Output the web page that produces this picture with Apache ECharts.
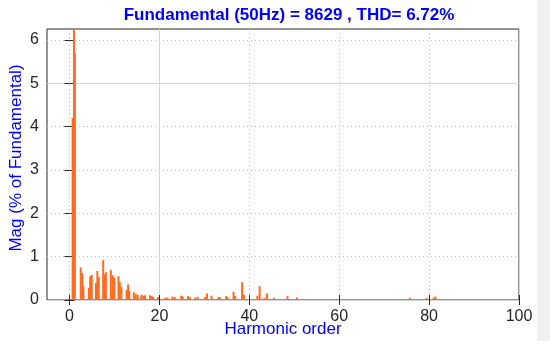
<!DOCTYPE html>
<html>
<head>
<meta charset="utf-8">
<script src="https://cdn.jsdelivr.net/npm/echarts@6/dist/echarts.min.js"></script>
<style>
html,body{margin:0;padding:0;background:#fff;}
#chart{width:550px;height:350px;}
</style>
</head>
<body>
<div id="chart"></div>
<script>
// ---- data ----
const titleText = 'Fundamental (50Hz) = 8629 , THD= 6.72%';
const xName = 'Harmonic order';
const yName = 'Mag (% of Fundamental)';
const xTicks = [0, 20, 40, 60, 80, 100];
const yTicks = [0, 1, 2, 3, 4, 5, 6];
const harmonicOrder = [0.7, 1.0, 1.2, 2.5, 2.85, 3.1, 4.3, 4.6, 4.95, 5.9, 6.2, 6.5, 7.5, 7.9, 8.1,
  9.2, 9.6, 9.95, 10.9, 11.2, 11.55, 12.7, 13.05, 13.3, 14.3, 14.75, 15.2, 16.0, 16.4, 16.8,
  17.9, 18.3, 18.6, 19.7, 21.3, 21.8, 22.9, 23.4, 24.85, 25.2, 26.35, 26.8, 28.0, 28.5, 30.1,
  30.6, 31.6, 33.1, 33.45, 34.85, 35.15, 36.5, 36.85, 38.4, 38.8, 41.8, 42.3, 43.4, 43.95,
  45.5, 48.5, 50.6, 75.7, 79.4, 81.0, 81.4];
const magPercent = [4.2, 100, 5.7, 0.75, 0.62, 0.31, 0.28, 0.55, 0.58, 0.39, 0.67, 0.53, 0.92, 0.59, 0.64,
  0.69, 0.57, 0.52, 0.55, 0.41, 0.3, 0.23, 0.36, 0.21, 0.18, 0.14, 0.12, 0.12, 0.1, 0.11,
  0.11, 0.09, 0.07, 0.07, 0.05, 0.06, 0.08, 0.07, 0.1, 0.08, 0.09, 0.06, 0.06, 0.07, 0.07,
  0.15, 0.1, 0.06, 0.07, 0.09, 0.06, 0.19, 0.09, 0.41, 0.12, 0.1, 0.32, 0.05, 0.15,
  0.05, 0.09, 0.06, 0.05, 0.05, 0.05, 0.08];
const xMin = -5, xMax = 100, yMin = 0, yMax = 6.25;

// ---- styles ----
const FONT = 'Liberation Sans, Arial, sans-serif';
const BLUE = '#0000FF';
const DARK = '#262626';
const MAJOR = '#d4d4d4';
const MINOR = '#bdbdbd';
const T = 'rgba(0,0,0,0)';
const BAR = '#FF6A1F';
const BAR_W = 2;

const barData = harmonicOrder.map((h, i) => [h, magPercent[i]]);

function isTick(v, list) { return list.some(t => Math.abs(t - v) < 1e-6); }

function renderBar(params, api) {
  const x = api.value(0), v = api.value(1);
  const top = api.coord([x, v]);
  const base = api.coord([x, 0]);
  const cs = params.coordSys;
  const rect = echarts.graphic.clipRectByRect(
    {x: top[0] - BAR_W / 2, y: top[1], width: BAR_W, height: base[1] - top[1]},
    {x: cs.x, y: cs.y, width: cs.width, height: cs.height});
  if (!rect) return null;
  return {type: 'rect', shape: rect, style: {fill: BAR}};
}

const chart = echarts.init(document.getElementById('chart'), null, {renderer: 'canvas'});
chart.setOption({
  animation: false,
  backgroundColor: '#ffffff',
  title: {
    text: titleText, left: 284, top: 2, textAlign: 'center',
    textStyle: {color: BLUE, fontFamily: FONT, fontWeight: 'bold', fontSize: 17}
  },
  graphic: [{type: 'rect', left: 537, top: 0, shape: {width: 13, height: 341}, style: {fill: '#f1f1f1'}, silent: true}],
  grid: {left: 47, right: 31, top: 29, bottom: 50, containLabel: false, outerBoundsMode: 'none',
    show: true, borderColor: DARK, borderWidth: 1, backgroundColor: '#fff'},
  xAxis: [{
    type: 'value', position: 'bottom', min: xMin, max: xMax, interval: 5,
    name: xName, nameLocation: 'middle', nameGap: 21, nameMoveOverlap: false,
    nameTextStyle: {color: BLUE, fontFamily: FONT, fontSize: 17},
    axisLine: {show: false},
    axisTick: {show: true, inside: true, length: 5, customValues: xTicks, lineStyle: {color: DARK}},
    axisLabel: {customValues: xTicks, margin: 9, color: DARK, fontFamily: FONT, fontSize: 16,
      formatter: v => isTick(v, xTicks) ? String(Math.round(v)) : ''},
    splitLine: {show: true, lineStyle: {color: [MINOR, T, MINOR, MINOR], type: [1, 3], width: 1}}
  }, {
    type: 'value', position: 'top', min: xMin, max: xMax, interval: 5,
    axisLine: {show: false},
    axisTick: {show: true, inside: true, length: 5, customValues: xTicks, lineStyle: {color: DARK}},
    axisLabel: {show: false},
    splitLine: {show: true, lineStyle: {color: [T, MAJOR, T, T], type: 'solid', width: 1}}
  }],
  yAxis: [{
    type: 'value', position: 'left', min: yMin, max: yMax, interval: 0.2,
    name: yName, nameLocation: 'middle', nameGap: 22, nameRotate: 90, nameMoveOverlap: false,
    nameTextStyle: {color: BLUE, fontFamily: FONT, fontSize: 17, padding: [0, 0, 0, 13]},
    axisLine: {show: false},
    axisTick: {show: true, inside: true, length: 5, customValues: yTicks, lineStyle: {color: DARK}},
    axisLabel: {customValues: yTicks, margin: 8, color: DARK, fontFamily: FONT, fontSize: 16,
      formatter: v => isTick(v, yTicks) ? String(Math.round(v)) : ''},
    splitLine: {show: true, lineStyle: {color: [T, MINOR, MINOR, MINOR, MINOR], type: [1, 3], width: 1}}
  }, {
    type: 'value', position: 'right', min: yMin, max: yMax, interval: 0.2,
    axisLine: {show: false},
    axisTick: {show: true, inside: true, length: 5, customValues: yTicks, lineStyle: {color: DARK}},
    axisLabel: {show: false},
    splitLine: {show: true, lineStyle: {color: [MAJOR, T, T, T, T], type: 'solid', width: 1}}
  }],
  series: [{
    type: 'custom', xAxisIndex: 0, yAxisIndex: 0, data: barData,
    renderItem: renderBar,
    encode: {x: 0, y: 1}
  }]
});
</script>
</body>
</html>
